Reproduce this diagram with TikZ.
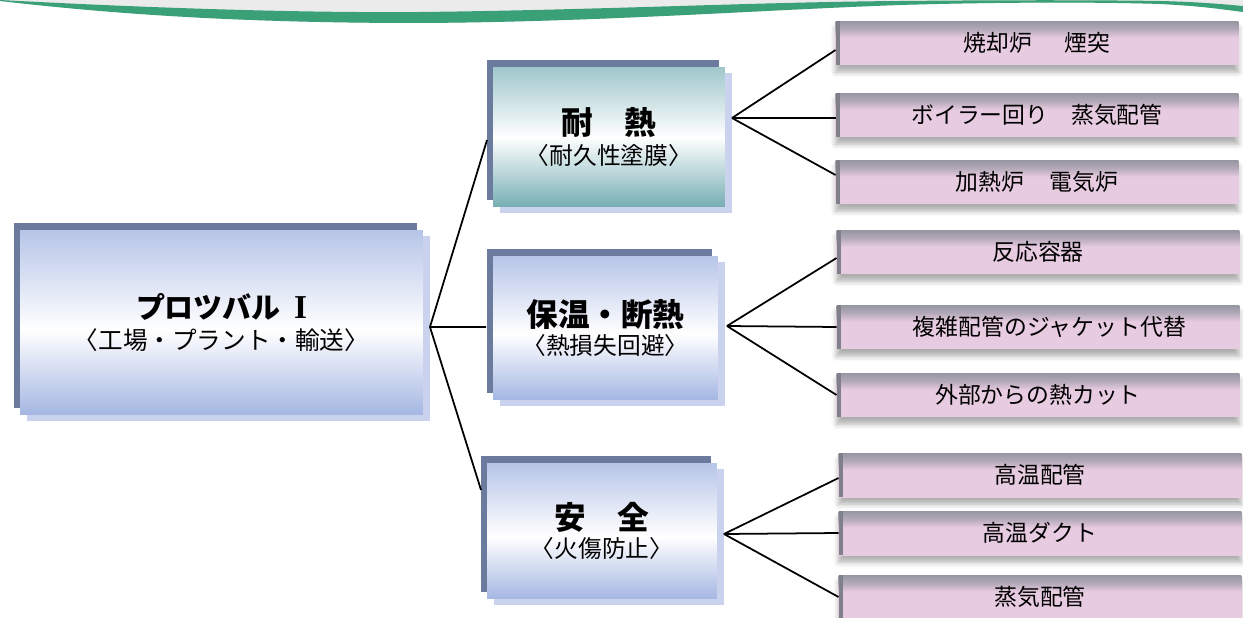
\documentclass[tikz,border=0pt]{standalone}
\usepackage{fontspec}
\setmainfont{Noto Sans CJK JP}
\newfontfamily\numeralfont{Liberation Serif}
\usetikzlibrary{shadows,shadows.blur,calc}

\definecolor{backslate}{RGB}{107,123,158}
\definecolor{shadelight}{RGB}{203,210,238}
\definecolor{boxblue}{RGB}{164,182,226}
\definecolor{boxteal}{RGB}{118,174,180}
\definecolor{leafpink}{RGB}{231,203,225}
\definecolor{leafgray}{RGB}{150,150,162}
\definecolor{bandgreen}{RGB}{58,160,120}
\definecolor{bandgray}{RGB}{235,235,235}

\pgfdeclareverticalshading{blueshade}{100bp}{color(0bp)=(boxblue); color(25bp)=(boxblue); color(48bp)=(white); color(75bp)=(boxblue!80); color(100bp)=(boxblue!80)}
\pgfdeclareverticalshading{tealshade}{100bp}{color(0bp)=(boxteal); color(25bp)=(boxteal); color(50bp)=(white); color(75bp)=(boxteal!70); color(100bp)=(boxteal!70)}
\pgfdeclareverticalshading{leafshade}{100bp}{color(0bp)=(leafpink); color(25bp)=(leafpink); color(56bp)=(leafpink); color(66bp)=(leafgray!65!leafpink); color(75bp)=(leafgray); color(100bp)=(leafgray)}

\begin{document}
\begin{tikzpicture}[x=0.02cm, y=-0.02cm,
  every node/.style={outer sep=0pt, inner sep=0pt, align=center},
  card/.style={rectangle, shading=blueshade,
    general shadow={shadow xshift=3.8pt, shadow yshift=-3.6pt, fill=shadelight},
    general shadow={shadow xshift=-3.6pt, shadow yshift=3.8pt, fill=backslate}},
  leaf/.style={rectangle, minimum width=8.06cm, minimum height=0.88cm, shading=leafshade,
    blur shadow={shadow xshift=0pt, shadow yshift=-4pt, shadow opacity=32, shadow blur radius=3pt},
    path picture={\fill[leafgray!85!black] (path picture bounding box.north west) rectangle ([xshift=2.8pt]path picture bounding box.south west);},
    font=\fontsize{13}{15}\selectfont},
  link/.style={line width=1pt}]
\useasboundingbox (0,0) rectangle (1243,618);

\fill[bandgray] (0,0) .. controls (120,15) and (250,23) .. (420,23) .. controls (600,22) and (760,10) .. (900,5)
  .. controls (1000,2) and (1100,2) .. (1160,4) .. controls (1200,6) and (1220,9) .. (1243,12) -- (1243,0) -- cycle;
\fill[bandgreen] (0,0) .. controls (150,8) and (300,13) .. (420,12) .. controls (600,10) and (760,2) .. (900,1)
  .. controls (1000,0) and (1100,0) .. (1160,1) .. controls (1200,2) and (1220,4) .. (1243,6) -- (1243,12)
  .. controls (1220,9) and (1200,6) .. (1160,4) .. controls (1100,2) and (1000,2) .. (900,5)
  .. controls (760,10) and (600,22) .. (420,23) .. controls (250,23) and (120,15) .. (0,1) -- cycle;

\node[card, minimum width=8.06cm, minimum height=3.7cm] (root) at (221.5,322.5)
  {\fontsize{16.5}{20}\selectfont\bfseries プロツバル\hspace{0.45em}{\numeralfont\fontsize{19}{20}\selectfont I}\\[3.5pt] \fontsize{14}{20}\selectfont 〈工場・プラント・輸送〉};

\node[card, shading=tealshade, minimum width=4.64cm, minimum height=2.8cm] (heat) at (609,137)
  {\fontsize{18}{20}\selectfont\bfseries 耐　熱\\[2.5pt] \fontsize{13.5}{20}\selectfont 〈耐久性塗膜〉};
\node[card, minimum width=4.5cm, minimum height=2.88cm] (insul) at (605.5,328)
  {\fontsize{18}{18.5}\selectfont\bfseries 保温・断熱\\[1.5pt] \fontsize{13.5}{18.5}\selectfont 〈熱損失回避〉};
\node[card, minimum width=4.6cm, minimum height=2.72cm] (safe) at (602,531)
  {\fontsize{18}{18.5}\selectfont\bfseries 安　全\\[1.5pt] \fontsize{13.5}{18.5}\selectfont 〈火傷防止〉};

\node[leaf] (kiln) at (1037,43) {焼却炉\hspace{1.4em}煙突};
\node[leaf] (boiler) at (1037,115) {ボイラー回り\quad 蒸気配管};
\node[leaf] (furnace) at (1037,182) {加熱炉\hspace{1.1em}電気炉};
\node[leaf] (vessel) at (1038,252) {反応容器};
\node[leaf] (jacket) at (1038,327) {\hspace{1em}複雑配管のジャケット代替};
\node[leaf] (cutoff) at (1038,395) {外部からの熱カット};
\node[leaf] (hotpipe) at (1040,475) {高温配管};
\node[leaf] (hotduct) at (1040,533) {高温ダクト};
\node[leaf] (steam) at (1040,597) {蒸気配管};

\coordinate (rootjoin) at ($(root.east)+(7,4.5)$);
\coordinate (heatjoin) at ($(heat.east)+(7,-19)$);
\coordinate (insuljoin) at ($(insul.east)+(9,-2)$);
\coordinate (safejoin) at ($(safe.east)+(7,3)$);

\draw[link] (rootjoin) -- ($(heat.west)+(-6,3)$);
\draw[link] (rootjoin) -- ($(insul.west)+(-7,-1)$);
\draw[link] (rootjoin) -- ($(safe.west)+(-6,-41)$);

\draw[link] (heatjoin) -- ($(kiln.west)+(0,7)$);
\draw[link] (heatjoin) -- ($(boiler.west)+(0,3)$);
\draw[link] (heatjoin) -- ($(furnace.west)+(0,-7)$);
\draw[link] (insuljoin) -- ($(vessel.west)+(0,6)$);
\draw[link] (insuljoin) -- (jacket.west);
\draw[link] (insuljoin) -- (cutoff.west);
\draw[link] (safejoin) -- ($(hotpipe.west)+(0,3)$);
\draw[link] (safejoin) -- (hotduct.west);
\draw[link] (safejoin) -- (steam.west);
\end{tikzpicture}
\end{document}
